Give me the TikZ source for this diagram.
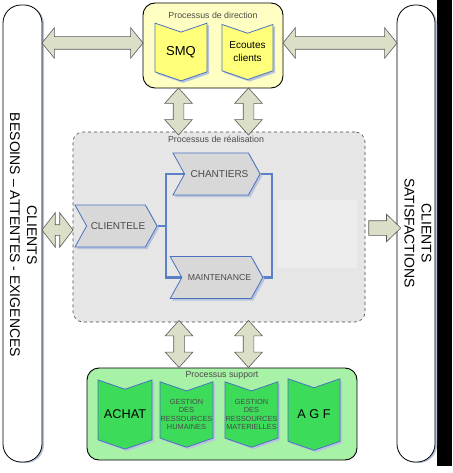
\documentclass[tikz,border=0pt]{standalone}
\usepackage{fontspec}
\setmainfont{Liberation Sans}
\usetikzlibrary{shapes.symbols,shapes.arrows,shadows,calc}
\definecolor{arrowfill}{HTML}{DCDFC8}
\definecolor{arrowdraw}{HTML}{5A5A5A}
\definecolor{diryel}{HTML}{FFFFC4}
\definecolor{tagyel}{HTML}{FFFF7A}
\definecolor{tagblue}{HTML}{4A72C0}
\definecolor{midgray}{HTML}{E6E6E6}
\definecolor{chevgray}{HTML}{D8D8D8}
\definecolor{supgreen}{HTML}{A8F2A8}
\definecolor{taggreen}{HTML}{3CDC5A}
\definecolor{linkblue}{HTML}{5B80C8}
\definecolor{shadowblue}{HTML}{B8C4DC}
\definecolor{textgray}{HTML}{4A4A4A}
\tikzset{
  pill/.style={draw=black, line width=0.8pt, fill=white, rounded corners=18pt,
    minimum width=39pt, minimum height=457pt, inner sep=0pt,
    drop shadow={fill=shadowblue, opacity=1, shadow xshift=2pt, shadow yshift=-1pt}},
  pilltext/.style={rotate=-90, align=center, font=\fontsize{14}{17}\selectfont},
  dirbox/.style={draw=black, line width=0.9pt, fill=diryel, rounded corners=12pt, inner sep=0pt},
  midbox/.style={draw=textgray, dashed, line width=0.6pt, fill=midgray, rounded corners=10pt, inner sep=0pt},
  supbox/.style={draw=black, line width=0.9pt, fill=supgreen, rounded corners=12pt, inner sep=0pt},
  title/.style={font=\fontsize{8.8}{10}\selectfont, text=textgray, inner sep=0pt},
  tag/.style={shape=signal, signal from=north, signal to=south, signal pointer angle=142,
    draw=tagblue, line width=0.8pt, inner sep=0pt, align=center,
    drop shadow={fill=shadowblue, opacity=1, shadow xshift=2pt, shadow yshift=-2pt}},
  ytag/.style={tag, fill=tagyel},
  gtag/.style={tag, fill=taggreen},
  chev/.style={shape=signal, signal from=west, signal to=east, signal pointer angle=122,
    draw=tagblue, line width=0.8pt, fill=chevgray, inner sep=0pt, text=textgray,
    minimum width=87pt, minimum height=42pt,
    drop shadow={fill=shadowblue, opacity=1, shadow xshift=2pt, shadow yshift=-2pt}},
  link/.style={draw=linkblue, line width=2.6pt},
  dbl/.style={shape=double arrow, draw=arrowdraw, fill=arrowfill, line width=0.6pt, inner xsep=0pt},
  sgl/.style={shape=single arrow, draw=arrowdraw, fill=arrowfill, line width=0.6pt, inner xsep=0pt},
}
\begin{document}
\begin{tikzpicture}[x=1pt,y=-1pt]
\useasboundingbox (0,0) rectangle (452,473);
\fill[black] (437,0) rectangle (452,466);

% side pills
\node[pill] (L) at (22.5,233.5) {};
\node[pill, minimum width=38pt] (R) at (416,233.5) {};
\node[pilltext] (Ltext) at (23.5,235) {CLIENTS\\BESOINS – ATTENTES - EXIGENCES};
\node[pilltext] (Rtext) at (418,233) {CLIENTS\\SATISFACTIONS};

% top: direction
\node[dirbox, minimum width=140pt, minimum height=85pt] (DIR) at (213,45.5) {};
\node[title] (DIRt) at (213,15) {Processus de direction};
\node[ytag, minimum width=52pt, minimum height=50pt, font=\fontsize{13}{15}\selectfont] (SMQ) at (181,52) {SMQ};
\node[ytag, minimum width=51pt, minimum height=50pt, font=\fontsize{10}{13}\selectfont] (ECO) at (247.5,52) {Ecoutes\\clients};

% middle: realisation
\node[midbox, minimum width=292pt, minimum height=190pt] (MID) at (219,227) {};
\node[title] (MIDt) at (216,139) {Processus de réalisation};
\fill[white, opacity=0.3] (277,200) rectangle (357,268);

\draw[link] (216.5,174) -| (166,226) |- (216.5,277.5);
\draw[link] (116,226) -- (166,226);
\draw[link] (216.5,174) -| (272,226) |- (216.5,277.5);

\node[chev, minimum width=82pt, font=\fontsize{10}{12}\selectfont] (CLI) at (116,226) {\hspace*{4pt}CLIENTELE};
\node[chev, font=\fontsize{10}{12}\selectfont] (CHA) at (216.5,174) {\hspace*{6pt}CHANTIERS};
\node[chev, font=\fontsize{8.7}{10}\selectfont] (MAI) at (216.5,277.5) {\hspace*{6pt}MAINTENANCE};

% bottom: support
\node[supbox, minimum width=270pt, minimum height=92pt] (SUP) at (222,414) {};
\node[title] (SUPt) at (222,375) {Processus support};
\node[gtag, minimum width=54pt, minimum height=65pt, font=\fontsize{12.7}{15}\selectfont] (ACH) at (125,414.5) {ACHAT};
\node[gtag, minimum width=53pt, minimum height=65pt, font=\fontsize{7.4}{8.6}\selectfont, text=textgray] (GRH) at (186.5,414.5) {GESTION\\DES\\RESSOURCES\\HUMAINES};
\node[gtag, minimum width=53pt, minimum height=65pt, font=\fontsize{7.4}{8.6}\selectfont, text=textgray] (GRM) at (251.5,414.5) {GESTION\\DES\\RESSOURCES\\MATERIELLES};
\node[gtag, minimum width=52pt, minimum height=65pt, font=\fontsize{12.7}{15}\selectfont] (AGF) at (314,414.5) {A G F};

% block arrows
\node[dbl, inner ysep=6pt, minimum height=101pt, double arrow head extend=9pt, double arrow tip angle=102] (A1) at (92.5,43) {};
\node[dbl, inner ysep=6pt, minimum height=114pt, double arrow head extend=9pt, double arrow tip angle=102] (A2) at (340,43) {};
\node[dbl, rotate=90, inner ysep=5pt, minimum height=47pt, double arrow head extend=8.5pt, double arrow tip angle=84] (A3) at (178.5,111.5) {};
\node[dbl, rotate=90, inner ysep=5pt, minimum height=47pt, double arrow head extend=8.5pt, double arrow tip angle=84] (A4) at (248.5,111.5) {};
\node[dbl, rotate=90, inner ysep=5pt, minimum height=47pt, double arrow head extend=8.5pt, double arrow tip angle=84] (A5) at (179,344) {};
\node[dbl, rotate=90, inner ysep=5pt, minimum height=47pt, double arrow head extend=8.5pt, double arrow tip angle=84] (A6) at (248.5,344) {};
\node[dbl, inner ysep=5pt, minimum height=31pt, double arrow head extend=12pt, double arrow tip angle=105] (A7) at (57.5,230) {};
\node[sgl, inner ysep=7pt, minimum height=32pt, single arrow head extend=6.5pt, single arrow tip angle=88] (A8) at (381,228) {};
\end{tikzpicture}
\end{document}
